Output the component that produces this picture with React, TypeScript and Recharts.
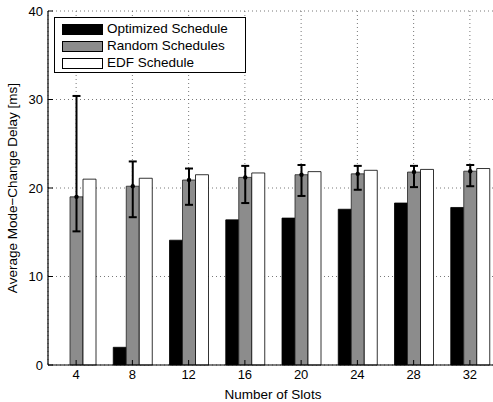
import React from 'react';
import {
  BarChart,
  Bar,
  XAxis,
  YAxis,
  CartesianGrid,
  ErrorBar,
} from 'recharts';

// Number of slots on the x axis
const slots = ['4', '8', '12', '16', '20', '24', '28', '32'];

// Average mode-change delay [ms]
const optimized = [0, 2.0, 14.1, 16.4, 16.6, 17.6, 18.3, 17.8];
const randomMean = [19.0, 20.2, 20.9, 21.2, 21.5, 21.6, 21.8, 21.9];
const randomLow = [15.1, 16.7, 18.1, 18.3, 19.1, 19.8, 20.1, 20.2];
const randomHigh = [30.4, 23.0, 22.2, 22.5, 22.6, 22.5, 22.5, 22.6];
const edf = [21.0, 21.1, 21.5, 21.7, 21.85, 22.0, 22.1, 22.2];

const yTicks = [0, 10, 20, 30, 40];

const legendItems = [
  { name: 'Optimized Schedule', fill: '#000000' },
  { name: 'Random Schedules', fill: '#8c8c8c' },
  { name: 'EDF Schedule', fill: '#ffffff' },
];

const data = slots.map((s, i) => ({
  slot: s,
  optimized: optimized[i],
  random: randomMean[i],
  randomErr: [randomMean[i] - randomLow[i], randomHigh[i] - randomMean[i]],
  edf: edf[i],
}));

const FONT = 'Liberation Sans, Arial, Helvetica, sans-serif';

const MeanDot = (props: any) => {
  const { x, y, width } = props;
  if (x == null) return null;
  return <circle cx={x + width / 2} cy={y} r={2.2} fill="#000" />;
};

const EmptyTick = () => <g />;

const App: React.FC = () => {
  return (
    <div style={{ position: 'absolute', left: 0, top: 0, width: 493, height: 402, overflow: 'hidden', background: '#fff' }}>
      <BarChart
        width={500}
        height={402}
        data={data}
        margin={{ top: 11, right: 2, bottom: 0, left: 0 }}
        barCategoryGap="16%"
        barGap={0}
        style={{ fontFamily: FONT }}
      >
        <CartesianGrid stroke="#555" strokeDasharray="1 3" strokeWidth={0.8} />
        <XAxis
          dataKey="slot"
          height={37}
          tickSize={-5}
          tickMargin={10}
          axisLine={{ stroke: '#000', strokeWidth: 1.2 }}
          tickLine={{ stroke: '#000' }}
          tick={{ fill: '#000', fontSize: 13 }}
          label={{
            content: (p: any) => {
              const vb = p.viewBox;
              return (
                <text x={vb.x + vb.width / 2} y={399} textAnchor="middle" fontSize={13.5} fill="#000">
                  Number of Slots
                </text>
              );
            },
          }}
        />
        <XAxis
          xAxisId="top"
          dataKey="slot"
          orientation="top"
          height={0}
          tickSize={-5}
          axisLine={{ stroke: '#000', strokeWidth: 1.2 }}
          tickLine={{ stroke: '#000' }}
          tick={<EmptyTick />}
        />
        <YAxis
          width={48}
          domain={[0, 40]}
          ticks={yTicks}
          tickSize={-5}
          tickMargin={10}
          axisLine={{ stroke: '#000', strokeWidth: 1.2 }}
          tickLine={{ stroke: '#000' }}
          tick={{ fill: '#000', fontSize: 13 }}
          label={{
            content: (p: any) => {
              const vb = p.viewBox;
              const cy = vb.y + vb.height / 2;
              return (
                <text
                  x={17}
                  y={cy}
                  transform={`rotate(-90 17 ${cy})`}
                  textAnchor="middle"
                  fontSize={13.5}
                  fill="#000"
                >
                  Average Mode−Change Delay [ms]
                </text>
              );
            },
          }}
        />
        <Bar dataKey="optimized" fill="#000" stroke="#000" strokeWidth={0.8} isAnimationActive={false} />
        <Bar dataKey="random" fill="#8c8c8c" stroke="#222" strokeWidth={0.8} isAnimationActive={false} label={<MeanDot />}>
          <ErrorBar dataKey="randomErr" width={4} stroke="#000" strokeWidth={2} />
        </Bar>
        <Bar dataKey="edf" fill="#fff" stroke="#000" strokeWidth={0.8} isAnimationActive={false} />
      </BarChart>
      <div
        style={{
          position: 'absolute',
          left: 54,
          top: 17,
          width: 190,
          height: 54,
          border: '1px solid #000',
          background: '#fff',
          fontFamily: FONT,
          fontSize: 13.5,
          color: '#000',
        }}
      >
        {legendItems.map((it, i) => (
          <div key={it.name} style={{ position: 'absolute', left: 7, top: 5 + i * 17, height: 12, display: 'flex', alignItems: 'center' }}>
            <div style={{ width: 41, height: 11, background: it.fill, border: '1px solid #000', boxSizing: 'border-box' }} />
            <span style={{ marginLeft: 4, lineHeight: '12px' }}>{it.name}</span>
          </div>
        ))}
      </div>
    </div>
  );
};

export default App;
